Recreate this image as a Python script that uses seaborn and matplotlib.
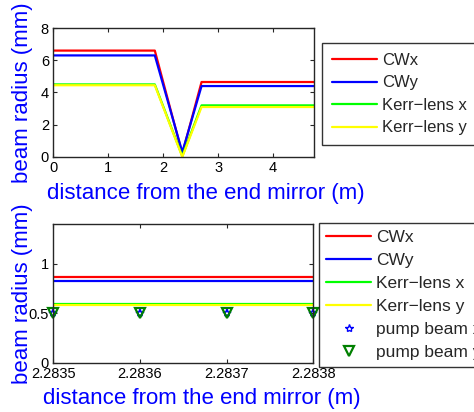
import pandas as pd
import seaborn as sns
import matplotlib.pyplot as plt

# top panel: beam radius along the cavity
dist = [0.0, 1.85, 2.35, 2.70, 4.78]
cw_x = [6.6, 6.6, 0.2, 4.65, 4.65]
cw_y = [6.3, 6.3, 0.3, 4.4, 4.4]
kerr_x = [4.5, 4.5, 0.05, 3.2, 3.2]
kerr_y = [4.45, 4.45, 0.0, 3.1, 3.1]

# bottom panel: zoom around the crystal
dist_zoom = [2.2835, 2.2836, 2.2837, 2.2838]
cw_x_zoom = [0.87, 0.87, 0.87, 0.87]
cw_y_zoom = [0.83, 0.83, 0.83, 0.83]
kerr_x_zoom = [0.59, 0.59, 0.59, 0.59]
kerr_y_zoom = [0.585, 0.585, 0.585, 0.585]
pump_x = [0.5, 0.5, 0.5, 0.5]
pump_y = [0.5, 0.5, 0.5, 0.5]

names = ["CWx", "CWy", "Kerr\u2212lens x", "Kerr\u2212lens y"]
colors = ["#ff0000", "#0000ff", "#00ff00", "#ffff00"]


def main():
    sns.set_style("ticks")
    plt.rcParams["font.family"] = ["Liberation Sans", "DejaVu Sans"]
    plt.rcParams["xtick.direction"] = "in"
    plt.rcParams["ytick.direction"] = "in"

    fig = plt.figure(figsize=(4.74, 4.12), dpi=100)
    ax1 = fig.add_axes([0.112, 0.619, 0.551, 0.313])
    ax2 = fig.add_axes([0.112, 0.119, 0.549, 0.337])

    top = pd.concat([
        pd.DataFrame({"x": dist, "r": vals, "beam": n})
        for n, vals in zip(names, [cw_x, cw_y, kerr_x, kerr_y])
    ])
    bot = pd.concat([
        pd.DataFrame({"x": dist_zoom, "r": vals, "beam": n})
        for n, vals in zip(names, [cw_x_zoom, cw_y_zoom, kerr_x_zoom, kerr_y_zoom])
    ])
    pal = dict(zip(names, colors))

    sns.lineplot(data=top, x="x", y="r", hue="beam", palette=pal, ax=ax1,
                 linewidth=1.6, legend=False, sort=False)
    sns.lineplot(data=bot, x="x", y="r", hue="beam", palette=pal, ax=ax2,
                 linewidth=1.6, legend=False, sort=False)
    ax2.plot(dist_zoom, pump_x, linestyle="none", marker="*", markersize=6,
             markerfacecolor="none", markeredgecolor="#0000ff", markeredgewidth=1.2,
             clip_on=False)
    ax2.plot(dist_zoom, pump_y, linestyle="none", marker="v", markersize=7,
             markerfacecolor="none", markeredgecolor="#008000", markeredgewidth=1.6,
             clip_on=False)

    ax1.set_xlim(0, 4.75)
    ax1.set_ylim(0, 8)
    ax1.set_xticks([0, 1, 2, 3, 4])
    ax1.set_yticks([0, 2, 4, 6, 8])

    ax2.set_xlim(2.2835, 2.2838)
    ax2.set_ylim(0, 1.4)
    ax2.set_xticks(dist_zoom)
    ax2.set_xticklabels(["2.2835", "2.2836", "2.2837", "2.2838"])
    ax2.set_yticks([0, 0.5, 1])
    ax2.set_yticklabels(["0", "0.5", "1"])

    for ax in (ax1, ax2):
        ax.tick_params(labelsize=10.5, top=True, right=True, length=3, pad=3,
                       labelcolor="black")
        for s in ax.spines.values():
            s.set_linewidth(1.0)
        ax.set_xlabel("distance from the end mirror (m)", color="#0000ff",
                      fontsize=16)
        ax.set_ylabel("beam radius (mm)", color="#0000ff", fontsize=16)
        ax.yaxis.set_label_coords(-0.077, 0.5)
    ax1.xaxis.set_label_coords(0.586, -0.205)
    ax2.xaxis.set_label_coords(0.573, -0.18)

    h1 = [plt.Line2D([], [], color=c, linewidth=1.6) for c in colors]
    fig.legend(h1, names, loc="upper left", bbox_to_anchor=(0.679, 0.896),
               fontsize=12, frameon=True, fancybox=False, edgecolor="black",
               handlelength=2.7, handletextpad=0.3, labelspacing=0.45,
               borderpad=0.6, borderaxespad=0)

    h2 = h1 + [
        plt.Line2D([], [], linestyle="none", marker="*", markersize=6,
                   markerfacecolor="none", markeredgecolor="#0000ff"),
        plt.Line2D([], [], linestyle="none", marker="v", markersize=7,
                   markerfacecolor="none", markeredgecolor="#008000",
                   markeredgewidth=1.6),
    ]
    fig.legend(h2, names + ["pump beam x", "pump beam y"], loc="upper left",
               bbox_to_anchor=(0.673, 0.459), fontsize=12.5, frameon=True,
               fancybox=False, edgecolor="black", handlelength=2.6,
               handletextpad=0.3, labelspacing=0.45, borderpad=0.4,
               borderaxespad=0)

    fig.savefig("out.png", dpi=100)


if __name__ == "__main__":
    main()
